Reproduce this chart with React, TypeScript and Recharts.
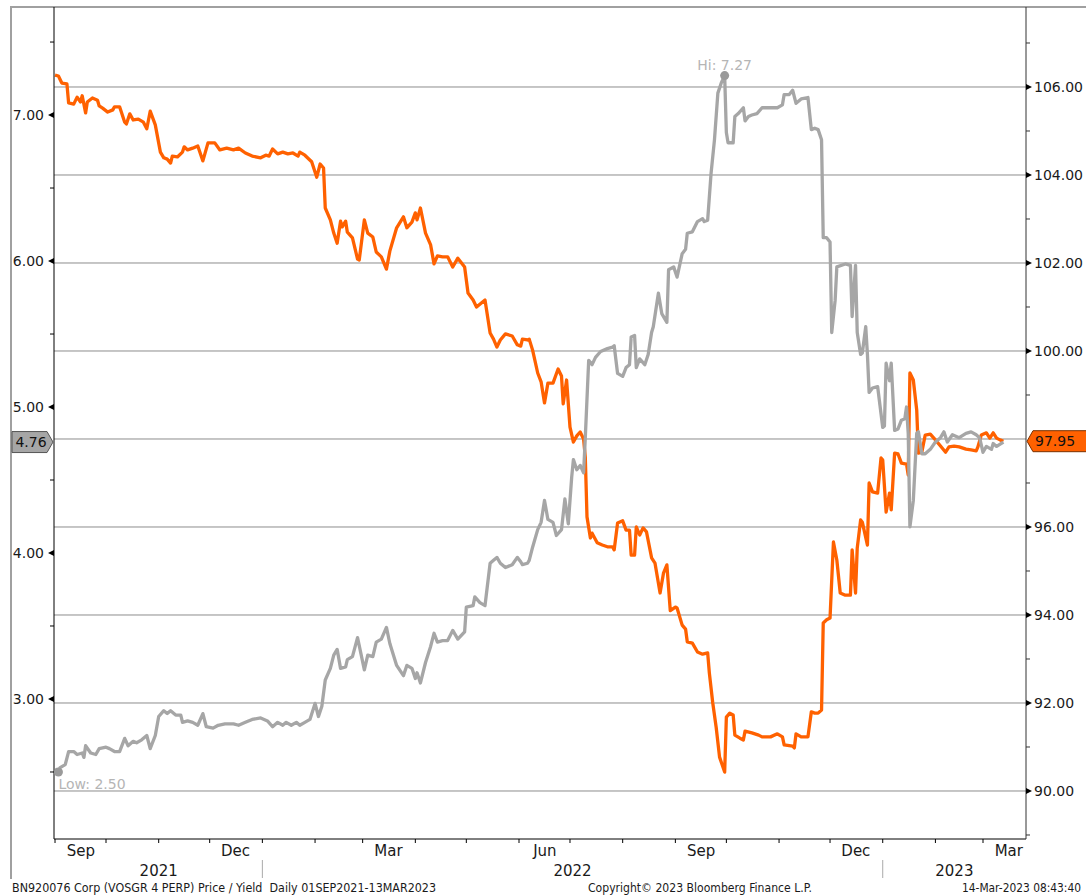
import React from "react";
import { LineChart, Line, XAxis, YAxis, ReferenceLine, ReferenceDot } from "recharts";

// days counted from 01 Sep 2021
const priceDays = [0,2,4,7,8,11,13,15,16,18,19,22,25,26,28,31,34,35,38,41,42,44,46,49,52,54,56,59,62,64,66,68,69,72,75,76,78,81,84,87,90,94,97,101,105,108,112,116,121,124,126,128,131,134,137,140,143,144,147,151,154,156,158,159,162,164,166,168,169,171,172,175,178,179,182,184,187,189,192,195,197,201,205,207,210,212,213,215,218,221,223,225,228,231,234,237,241,243,246,248,253,256,258,260,262,265,269,272,274,275,278,279,281,284,286,288,290,293,296,298,299,301,303,305,307,309,311,312,313,315,316,319,322,325,328,329,331,334,336,338,339,341,342,344,346,348,351,353,356,358,360,362,365,366,369,371,372,375,378,381,384,385,387,389,391,394,395,397,399,400,403,405,406,410,414,416,421,425,428,429,434,435,436,439,443,445,447,449,451,452,454,456,458,460,462,465,468,469,471,472,474,475,478,479,481,484,486,487,489,491,492,494,496,498,501,502,503,505,507,508,510,512,515,518,521,524,526,529,532,536,539,542,543,545,548,550,552,554,556,558];
const priceVals = [106.27,106.25,106.09,106.07,105.64,105.61,105.77,105.66,105.8,105.41,105.66,105.75,105.7,105.57,105.52,105.43,105.48,105.55,105.55,105.2,105.16,105.39,105.25,105.27,105.2,105.05,105.45,105.14,104.52,104.39,104.36,104.27,104.43,104.41,104.52,104.64,104.57,104.61,104.66,104.32,104.73,104.73,104.57,104.61,104.57,104.61,104.5,104.43,104.39,104.45,104.43,104.59,104.48,104.52,104.48,104.5,104.43,104.52,104.45,104.3,103.95,104.25,104.16,103.25,102.98,102.68,102.45,102.95,102.82,102.95,102.7,102.57,102.09,102.07,102.98,102.68,102.59,102.25,102.14,101.86,102.27,102.8,103.05,102.8,102.93,103.14,102.98,103.25,102.68,102.41,101.98,102.16,102.14,102.14,101.91,102.11,101.91,101.32,101.16,101.0,101.16,100.41,100.27,100.09,100.25,100.39,100.34,100.14,100.11,100.27,100.25,100.27,100.02,99.5,99.3,98.82,99.27,99.27,99.59,99.43,98.8,99.34,98.27,97.93,98.07,98.16,98.0,97.59,96.23,95.75,95.86,95.64,95.59,95.55,95.55,95.48,96.09,96.14,95.93,95.93,95.36,95.36,96.0,95.82,95.98,95.89,95.3,95.18,94.5,94.95,95.14,94.1,94.18,94.16,93.77,93.68,93.39,93.36,93.16,93.11,93.14,92.68,92.0,91.45,90.77,90.43,91.68,91.77,91.73,91.27,91.2,91.16,91.36,91.32,91.27,91.23,91.23,91.3,91.23,91.05,91.02,90.98,91.3,91.23,91.23,91.8,91.77,91.77,91.84,93.82,93.89,93.93,95.66,95.25,94.5,94.45,94.45,95.48,94.5,95.52,96.16,96.11,95.59,97.0,96.8,96.77,97.57,97.52,96.34,96.77,96.39,97.68,97.66,97.45,97.43,97.18,99.5,99.34,98.66,97.68,97.7,98.09,98.11,97.98,97.84,97.7,97.82,97.84,97.82,97.77,97.75,97.73,97.82,98.09,98.14,98.02,98.14,98.02,97.98,97.95];

const yieldDays = [0,2,3,6,8,11,13,16,17,18,21,24,26,30,32,35,38,41,43,46,48,51,54,56,59,61,64,66,68,71,74,75,78,81,84,87,89,93,96,100,105,108,112,116,121,125,128,131,134,136,139,142,144,147,150,153,155,157,159,162,164,166,168,171,172,175,178,182,184,187,189,192,195,197,201,205,207,210,212,213,215,218,221,223,225,228,231,234,237,241,242,246,247,250,253,256,258,260,262,265,269,272,274,275,278,279,281,284,286,288,290,293,295,298,300,302,304,305,307,309,311,312,314,316,318,321,325,328,329,331,334,336,338,339,341,342,344,347,349,351,352,355,357,360,361,364,366,369,371,372,375,378,381,382,384,386,388,390,392,394,395,396,399,400,402,405,406,408,410,413,416,419,425,428,429,432,434,436,439,443,445,447,449,451,452,454,456,457,459,460,465,468,469,471,472,474,475,477,478,479,481,484,487,488,489,491,492,494,496,498,500,501,502,503,505,507,508,510,512,515,518,521,523,525,528,532,536,539,542,544,546,548,551,552,554,558];
const yieldVals = [2.52,2.5,2.53,2.55,2.64,2.64,2.62,2.63,2.6,2.68,2.63,2.62,2.66,2.67,2.66,2.64,2.64,2.73,2.68,2.71,2.7,2.72,2.75,2.66,2.75,2.88,2.92,2.9,2.92,2.89,2.89,2.84,2.85,2.84,2.82,2.9,2.81,2.8,2.82,2.83,2.83,2.82,2.84,2.86,2.87,2.85,2.81,2.84,2.82,2.84,2.82,2.84,2.82,2.84,2.86,2.97,2.88,2.95,3.13,3.21,3.3,3.34,3.21,3.22,3.27,3.29,3.42,3.2,3.3,3.29,3.39,3.41,3.49,3.38,3.23,3.16,3.23,3.21,3.14,3.18,3.11,3.25,3.36,3.45,3.39,3.4,3.4,3.47,3.41,3.46,3.63,3.64,3.7,3.66,3.64,3.93,3.95,3.97,3.93,3.9,3.92,3.97,3.94,3.92,3.93,3.95,4.04,4.16,4.21,4.36,4.23,4.21,4.12,4.16,4.37,4.2,4.52,4.64,4.57,4.6,4.55,4.79,5.32,5.29,5.34,5.38,5.4,5.41,5.42,5.23,5.21,5.27,5.29,5.48,5.49,5.27,5.33,5.29,5.36,5.51,5.55,5.78,5.64,5.58,5.94,5.96,5.89,6.05,6.08,6.19,6.2,6.27,6.29,6.27,6.28,6.6,6.83,7.15,7.22,7.27,6.88,6.81,6.81,6.99,7.01,7.05,6.96,6.99,7.0,7.01,7.05,7.05,7.05,7.07,7.14,7.14,7.17,7.08,7.11,7.12,6.9,6.91,6.9,6.83,6.16,6.16,6.13,5.51,5.73,5.96,5.98,5.97,5.62,5.97,5.51,5.36,5.37,5.55,5.36,5.1,5.13,5.14,4.86,4.87,5.3,5.18,5.3,4.84,4.85,4.91,4.92,5.0,4.82,4.18,4.36,4.82,4.83,4.68,4.68,4.71,4.76,4.79,4.83,4.76,4.81,4.79,4.82,4.83,4.81,4.79,4.69,4.73,4.71,4.75,4.73,4.76];

const monthStarts = [0,30,61,91,122,153,181,212,242,273,303,334,365,395,426,456,487,518,546];
const monthLabels = ["Sep","","","Dec","","","Mar","","","Jun","","","Sep","","","Dec","","","Mar"];
const yearStarts = [0,122,487,852];
const yearLabels = ["2021","2022","2023"];

const yieldTicks = [2.5,3,3.5,4,4.5,5,5.5,6,6.5,7,7.5];
const priceTicks = [89,90,91,92,93,94,95,96,97,98,99,100,101,102,103,104,105,106,107];
const priceGrid = [90,92,94,96,98,100,102,104,106];

const footerLeft = "BN920076 Corp (VOSGR 4 PERP) Price / Yield  Daily 01SEP2021-13MAR2023";
const footerMid = "Copyright\u00a9 2023 Bloomberg Finance L.P.";
const footerRight = "14-Mar-2023 08:43:40";

const W = 1086;
const H = 895;
const X_MIN = -0.6;
const X_MAX = 571.3;
const PLOT_W = 972;
const PX_PER_DAY = PLOT_W / (X_MAX - X_MIN);
const FONT = "'DejaVu Sans', Verdana, sans-serif";
const ORANGE = "#ff6100";
const GREY = "#a6a6a6";

const yearMids = yearLabels.map((_, i) => {
  const a = Math.max(yearStarts[i], X_MIN);
  const b = Math.min(yearStarts[i + 1], X_MAX);
  return (a + b) / 2;
});

const lastPrice = priceVals[priceVals.length - 1];
const lastYield = yieldVals[yieldVals.length - 1];

const LeftTick = (props: any) => {
  const { x, y, payload } = props;
  const v = payload.value as number;
  if (v % 1 !== 0) return <line x1={x - 4} x2={x} y1={y} y2={y} stroke="#000" />;
  return (
    <g>
      <polygon points={`${x},${y - 3} ${x},${y + 3} ${x - 6},${y}`} fill="#000" />
      <text x={x - 10} y={y + 5} textAnchor="end" fontSize={14} fontFamily={FONT} fill="#1a1a1a">
        {v.toFixed(2)}
      </text>
    </g>
  );
};

const RightTick = (props: any) => {
  const { x, y, payload } = props;
  const v = payload.value as number;
  if (v % 2 !== 0) return <line x1={x} x2={x + 4} y1={y} y2={y} stroke="#333" />;
  // the last-price tag covers this label
  if (Math.abs(v - lastPrice) < 0.4) return <g />;
  return (
    <g>
      <polygon points={`${x},${y - 3} ${x},${y + 3} ${x + 6},${y}`} fill="#000" />
      <text x={x + 8} y={y + 5} textAnchor="start" fontSize={14} fontFamily={FONT} fill="#1a1a1a">
        {v.toFixed(2)}
      </text>
    </g>
  );
};

const MonthTick = (props: any) => {
  const { x, y, payload } = props;
  const d = payload.value as number;
  const label = monthLabels[monthStarts.indexOf(d)];
  const yi = yearStarts.indexOf(d);
  return (
    <g>
      <line x1={x} x2={x} y1={y} y2={y + 4} stroke="#000" />
      {label && (
        <text x={x + 15.2 * PX_PER_DAY} y={y + 17} textAnchor="middle" fontSize={15} fontFamily={FONT} fill="#1a1a1a">
          {label}
        </text>
      )}
      {yi > 0 && <line x1={x} x2={x} y1={y + 21} y2={y + 39} stroke="#aaaaaa" />}
      {yi >= 0 && yi < yearLabels.length && (
        <text
          x={x + (yearMids[yi] - d) * PX_PER_DAY}
          y={y + 37}
          textAnchor="middle"
          fontSize={15}
          fontFamily={FONT}
          fill="#1a1a1a"
        >
          {yearLabels[yi]}
        </text>
      )}
    </g>
  );
};

export default function App() {
  const priceData = priceDays.map((d, i) => ({ d, v: priceVals[i] }));
  const yieldData = yieldDays.map((d, i) => ({ d, v: yieldVals[i] }));
  const hiVal = Math.max(...yieldVals);
  const loVal = Math.min(...yieldVals);
  const hiDay = yieldDays[yieldVals.indexOf(hiVal)];
  const loDay = yieldDays[yieldVals.indexOf(loVal)];

  return (
    <div style={{ position: "absolute", left: 0, top: 0, width: W, height: H, background: "#fff" }}>
      <svg width={W} height={H} style={{ position: "absolute", left: 0, top: 0 }}>
        <line x1={11} x2={11} y1={6} y2={879} stroke="#a0a0a0" strokeWidth={2} />
        <line x1={10} x2={W} y1={7} y2={7} stroke="#a0a0a0" strokeWidth={2} />
        <g fontFamily={FONT} fontSize={12} fill="#1a1a1a">
          <text x={12} y={892} textLength={424} lengthAdjust="spacingAndGlyphs" style={{ whiteSpace: "pre" }}>
            {footerLeft}
          </text>
          <text x={588} y={892} textLength={224} lengthAdjust="spacingAndGlyphs">
            {footerMid}
          </text>
          <text x={962} y={892} textLength={119} lengthAdjust="spacingAndGlyphs">
            {footerRight}
          </text>
        </g>
      </svg>
      <div style={{ position: "absolute", left: 0, top: 0 }}>
        <LineChart width={W} height={H} margin={{ top: 7, right: 0, bottom: 0, left: 0 }}>
          <XAxis
            dataKey="d"
            type="number"
            domain={[X_MIN, X_MAX]}
            allowDataOverflow
            ticks={monthStarts}
            interval={0}
            tickSize={0}
            tickMargin={0}
            height={56}
            axisLine={{ stroke: "#000" }}
            tickLine={false}
            tick={(p: any) => <MonthTick {...p} />}
          />
          <YAxis
            yAxisId="y"
            orientation="left"
            width={54}
            type="number"
            domain={[2.041, 7.74]}
            allowDataOverflow
            ticks={yieldTicks}
            interval={0}
            tickSize={0}
            tickMargin={0}
            axisLine={{ stroke: "#000" }}
            tickLine={false}
            tick={(p: any) => <LeftTick {...p} />}
          />
          <YAxis
            yAxisId="p"
            orientation="right"
            width={60}
            type="number"
            domain={[88.909, 107.818]}
            allowDataOverflow
            ticks={priceTicks}
            interval={0}
            tickSize={0}
            tickMargin={0}
            axisLine={{ stroke: "#333" }}
            tickLine={false}
            tick={(p: any) => <RightTick {...p} />}
          />
          {priceGrid.map((g) => (
            <ReferenceLine key={g} yAxisId="p" y={g} stroke="#8c8c8c" strokeWidth={1} />
          ))}
          <Line
            yAxisId="p"
            data={priceData}
            dataKey="v"
            type="linear"
            stroke={ORANGE}
            strokeWidth={3.3}
            dot={false}
            strokeLinejoin="round"
            isAnimationActive={false}
          />
          <Line
            yAxisId="y"
            data={yieldData}
            dataKey="v"
            type="linear"
            stroke={GREY}
            strokeWidth={3.3}
            dot={false}
            strokeLinejoin="round"
            isAnimationActive={false}
          />
          <ReferenceDot
            yAxisId="y"
            x={hiDay}
            y={hiVal}
            ifOverflow="visible"
            shape={(p: any) => (
              <g>
                <circle cx={p.cx} cy={p.cy} r={4.5} fill="#9a9a9a" />
                <text x={p.cx} y={p.cy - 6} textAnchor="middle" fontSize={14} fontFamily={FONT} fill="#b5b5b5">
                  {`Hi: ${hiVal.toFixed(2)}`}
                </text>
              </g>
            )}
          />
          <ReferenceDot
            yAxisId="y"
            x={loDay}
            y={loVal}
            ifOverflow="visible"
            shape={(p: any) => (
              <g>
                <circle cx={p.cx} cy={p.cy} r={4.5} fill="#9a9a9a" />
                <text x={p.cx} y={p.cy + 17} textAnchor="start" fontSize={14} fontFamily={FONT} fill="#b5b5b5">
                  {`Low: ${loVal.toFixed(2)}`}
                </text>
              </g>
            )}
          />
          <ReferenceDot
            yAxisId="y"
            x={X_MIN}
            y={lastYield}
            ifOverflow="visible"
            shape={(p: any) => (
              <g>
                <polygon
                  points={`${p.cx - 42},${p.cy - 10.5} ${p.cx - 7},${p.cy - 10.5} ${p.cx - 1},${p.cy} ${p.cx - 7},${p.cy + 10.5} ${p.cx - 42},${p.cy + 10.5}`}
                  fill="#a6a6a6"
                  stroke="#555"
                />
                <text x={p.cx - 23} y={p.cy + 5} textAnchor="middle" fontSize={14} fontFamily={FONT} fill="#111">
                  {lastYield.toFixed(2)}
                </text>
              </g>
            )}
          />
          <ReferenceDot
            yAxisId="p"
            x={X_MAX}
            y={lastPrice}
            ifOverflow="visible"
            shape={(p: any) => (
              <g>
                <polygon
                  points={`${p.cx + 1},${p.cy} ${p.cx + 7},${p.cy - 10.5} ${W + 2},${p.cy - 10.5} ${W + 2},${p.cy + 10.5} ${p.cx + 7},${p.cy + 10.5}`}
                  fill={ORANGE}
                  stroke="#7a3000"
                />
                <text x={p.cx + 9} y={p.cy + 5} textAnchor="start" fontSize={14} fontFamily={FONT} fill="#111">
                  {lastPrice.toFixed(2)}
                </text>
              </g>
            )}
          />
        </LineChart>
      </div>
    </div>
  );
}
